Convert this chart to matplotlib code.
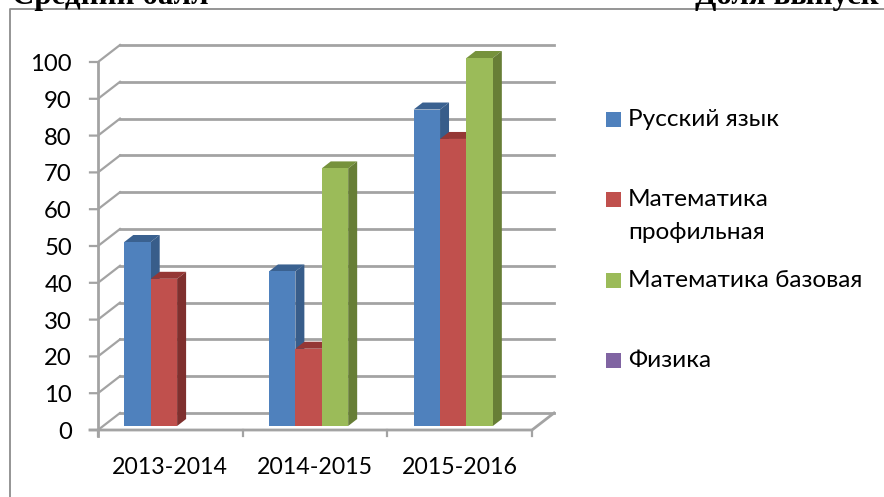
import matplotlib
matplotlib.use("Agg")
import matplotlib.pyplot as plt

plt.rcParams['font.family'] = ['Lato', 'Open Sans', 'DejaVu Sans']

##############DATA#################
years = ["2013-2014", "2014-2015", "2015-2016"]
russian = [50, 42, 86]
math_prof = [40, 21, 78]
math_base = [0, 70, 100]
physics = [0, 0, 0]
series_names = ["Русский язык", "Математика\nпрофильная", "Математика базовая", "Физика"]
y_ticks = list(range(0, 101, 10))
head_left = "Средний балл"
head_right = "Доля выпуск"

face = ["#4f81bd", "#c0504d", "#9bbb59", "#8064a2"]
side = ["#385d8a", "#7f302e", "#677e36", "#5c4776"]
top = ["#3a6190", "#953735", "#76923c", "#664f85"]
grid = "#a3a3a3"

W, H = 884, 497
X0, Y0 = 98, 430          # pixel of the front axis origin
PX_CAT = 144.67           # pixels per category
PX_VAL = 3.68             # pixels per value unit
DX = 22 / PX_CAT          # wall depth
DY = 17 / PX_VAL
BAR_DX = 9 / PX_CAT       # bar depth
BAR_DY = 7 / PX_VAL
BAR_W = 26.4 / PX_CAT
BAR_X = 26.3 / PX_CAT
BAR_Y = 4 / PX_VAL

fig = plt.figure(figsize=(W / 100, H / 100), dpi=100)
ax = fig.add_axes([0, 0, 1, 1])
ax.set_xlim(-X0 / PX_CAT, (W - X0) / PX_CAT)
ax.set_ylim((Y0 - H) / PX_VAL, Y0 / PX_VAL)
ax.axis("off")

n_cat = len(years)

#############WALLS################
for v in y_ticks:
    ax.plot([-8 / PX_CAT, 0, DX], [v, v, v + DY], color=grid, lw=1.6, zorder=1, solid_joinstyle="miter")
    ax.plot([DX, n_cat + DX], [v + DY, v + DY], color=grid, lw=2, zorder=1)
ax.plot([-8 / PX_CAT, n_cat, n_cat + DX], [0, 0, DY], color=grid, lw=2, zorder=1)
ax.plot([0, 0], [-6 / PX_VAL, 100], color=grid, lw=2, zorder=1)
for c in range(n_cat + 1):
    ax.plot([c, c], [-6 / PX_VAL, 0], color=grid, lw=1.6, zorder=1)

#############BARS################
all_series = [russian, math_prof, math_base, physics]
z = 2
for c in range(n_cat):
    for s, vals in enumerate(all_series):
        v = vals[c]
        if v == 0:
            continue
        l = c + BAR_X + s * BAR_W
        r = l + BAR_W
        b = BAR_Y
        t = BAR_Y + v
        ax.fill([l, r, r + BAR_DX, l + BAR_DX], [t, t, t + BAR_DY, t + BAR_DY], color=top[s], lw=0, zorder=z)
        ax.fill([r, r + BAR_DX, r + BAR_DX, r], [b, b + BAR_DY, t + BAR_DY, t], color=side[s], lw=0, zorder=z)
        ax.fill([l, r, r, l], [b, b, t, t], color=face[s], lw=0, zorder=z + 0.5)
        z += 1

#############TEXT################
for v in y_ticks:
    ax.text(-26 / PX_CAT, v - 0.7, str(v), ha="right", va="center", fontsize=17.2, color="black")
for c, lab in enumerate(years):
    ax.text(c + 0.5, -37 / PX_VAL, lab, ha="center", va="center", fontsize=16.7, color="black")

leg_y = [119, 199, 280, 360]
for name, col, ly in zip(series_names, face, leg_y):
    fig.add_artist(plt.Rectangle((606 / W, 1 - (ly + 7.5) / H), 15 / W, 15 / H,
                                 transform=fig.transFigure, color=col, lw=0))
    fig.text(628 / W, 1 - (ly + 7) / H, name.split("\n")[0], ha="left", va="baseline", fontsize=17.6, color="black")
    if "\n" in name:
        fig.text(628 / W, 1 - (ly + 40) / H, name.split("\n")[1], ha="left", va="baseline", fontsize=17.6, color="black")

#############FRAME AND CLIPPED HEADERS################
fig.add_artist(plt.Line2D([10 / W, 10 / W, 1], [0, 1 - 9 / H, 1 - 9 / H], color="#8c8c8c", lw=1.3))
fig.text(12 / W, 1 - 4 / H, head_left, family="Liberation Serif", weight="bold", fontsize=22.3, ha="left", va="baseline")
fig.text(695 / W, 1 - 4 / H, head_right, family="Liberation Serif", weight="bold", fontsize=22.3, ha="left", va="baseline")

fig.savefig("out.png", dpi=100)
